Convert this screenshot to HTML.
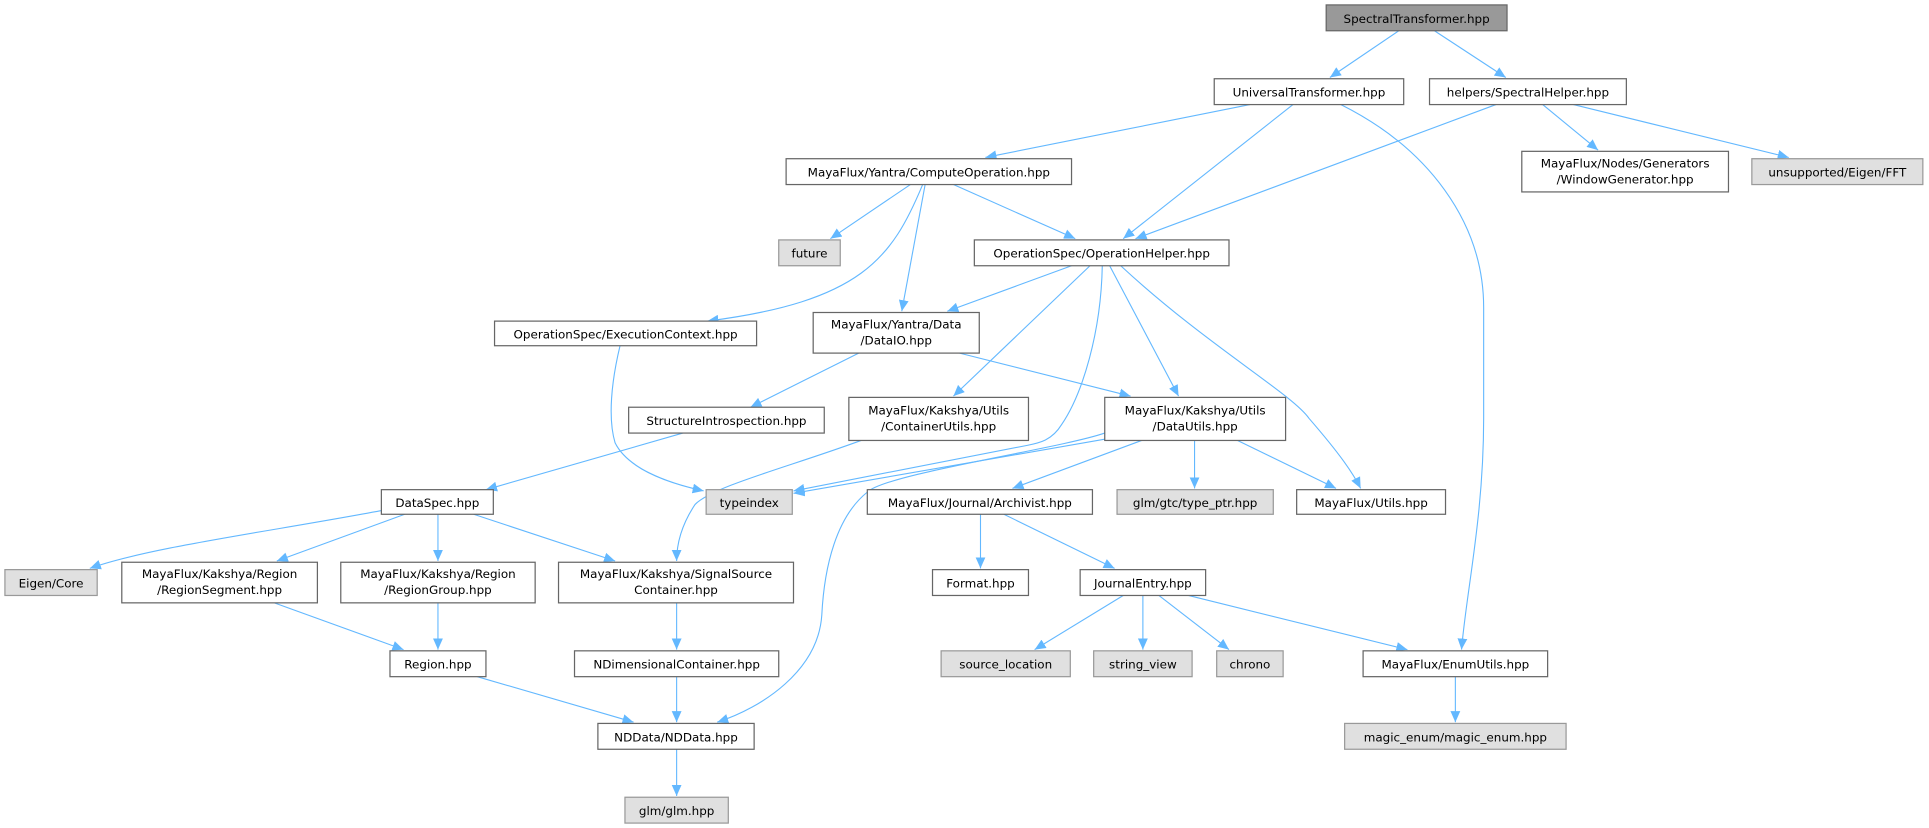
<!DOCTYPE html>
<html><head><meta charset="utf-8"><style>
html,body{margin:0;padding:0;background:#fff;}
svg{display:block;}
text{font-family:"DejaVu Sans","Liberation Sans",sans-serif;font-size:9.7px;fill:#000;text-anchor:middle;}
.n{fill:#fff;stroke:#666;stroke-width:1;}
.g{fill:#e0e0e0;stroke:#999;stroke-width:1;}
.r{fill:#999;stroke:#666;stroke-width:1;}
.e{fill:none;stroke:#63b8ff;stroke-width:0.9;marker-end:url(#a);}
</style></head><body>
<svg width="1929" height="828" viewBox="0 0 1568 673" preserveAspectRatio="none" xmlns="http://www.w3.org/2000/svg">
<defs><marker id="a" markerUnits="userSpaceOnUse" markerWidth="10" markerHeight="8" refX="9" refY="4" orient="auto"><path d="M0,0 L9,4 L0,8 z" fill="#63b8ff"/></marker></defs>
<!-- edges -->
<path class="e" d="M1137,25 L1081,63"/>
<path class="e" d="M1166,25 L1224,63"/>
<path class="e" d="M1016,85 L801,128"/>
<path class="e" d="M1051,85 L913,194"/>
<path class="e" d="M1090,85 C1160,120 1206,180 1206,250 L1206,340 C1206,420 1192,480 1188,528"/>
<path class="e" d="M1216,85 L923,194"/>
<path class="e" d="M1254,85 L1299,122"/>
<path class="e" d="M1279,85 L1454,128"/>
<path class="e" d="M740,150 L675,194"/>
<path class="e" d="M750,150 C725,210 700,245 575,261"/>
<path class="e" d="M752,150 L733,253"/>
<path class="e" d="M775,150 L874,194"/>
<path class="e" d="M871,216 L770,253"/>
<path class="e" d="M886,216 L775,322"/>
<path class="e" d="M896,216 C895,270 880,320 863,345 C855,358 845,360 835,362 L645,399"/>
<path class="e" d="M902,216 L958,322"/>
<path class="e" d="M911,216 C980,280 1050,320 1064,340 C1090,370 1100,385 1106,397"/>
<path class="e" d="M698,287 L610,331"/>
<path class="e" d="M780,287 L919,322"/>
<path class="e" d="M504,281 C497,310 494,340 500,360 C510,380 540,392 572,399"/>
<path class="e" d="M555,352 L395,398"/>
<path class="e" d="M700,358 C640,380 580,395 565,410 C555,425 550,440 550,456"/>
<path class="e" d="M898,357 L645,401"/>
<path class="e" d="M898,352 C860,365 720,385 705,400 C680,420 670,460 668,500 C665,545 620,575 583,587"/>
<path class="e" d="M928,358 L823,397"/>
<path class="e" d="M971,358 L971,397"/>
<path class="e" d="M1006,358 L1086,397"/>
<path class="e" d="M310,415 C220,432 120,445 73,462"/>
<path class="e" d="M329,418 L225,456"/>
<path class="e" d="M356,418 L356,456"/>
<path class="e" d="M385,418 L500,456"/>
<path class="e" d="M223,490 L328,528"/>
<path class="e" d="M356,490 L356,528"/>
<path class="e" d="M550,490 L550,528"/>
<path class="e" d="M388,550 L515,587"/>
<path class="e" d="M550,550 L550,587"/>
<path class="e" d="M550,609 L550,647"/>
<path class="e" d="M797,418 L797,462"/>
<path class="e" d="M816,418 L906,462"/>
<path class="e" d="M913,484 L841,528"/>
<path class="e" d="M929,484 L929,528"/>
<path class="e" d="M942,484 L999,528"/>
<path class="e" d="M966,484 L1144,528"/>
<path class="e" d="M1183,550 L1183,587"/>
<!-- nodes -->
<rect class="r" x="1078" y="4" width="147" height="21"/><text x="1151.5" y="18.5">SpectralTransformer.hpp</text>
<rect class="n" x="987" y="64" width="154" height="21"/><text x="1064" y="78.5">UniversalTransformer.hpp</text>
<rect class="n" x="1162" y="64" width="160" height="21"/><text x="1242" y="78.5">helpers/SpectralHelper.hpp</text>
<rect class="n" x="639" y="129" width="232" height="21"/><text x="755" y="143.5">MayaFlux/Yantra/ComputeOperation.hpp</text>
<rect class="n" x="1237" y="123" width="168" height="33"/><text x="1321" y="136">MayaFlux/Nodes/Generators</text><text x="1321" y="149">/WindowGenerator.hpp</text>
<rect class="g" x="1424" y="129" width="139" height="21"/><text x="1493.5" y="143.5">unsupported/Eigen/FFT</text>
<rect class="g" x="633" y="195" width="50" height="21"/><text x="658" y="209.5">future</text>
<rect class="n" x="792" y="195" width="207" height="21"/><text x="895.5" y="209.5">OperationSpec/OperationHelper.hpp</text>
<rect class="n" x="402" y="261" width="213" height="20"/><text x="508.5" y="275">OperationSpec/ExecutionContext.hpp</text>
<rect class="n" x="661" y="254" width="135" height="33"/><text x="728.5" y="267">MayaFlux/Yantra/Data</text><text x="728.5" y="280">/DataIO.hpp</text>
<rect class="n" x="511" y="331" width="159" height="21"/><text x="590.5" y="345.5">StructureIntrospection.hpp</text>
<rect class="n" x="690" y="323" width="146" height="35"/><text x="763" y="337">MayaFlux/Kakshya/Utils</text><text x="763" y="350">/ContainerUtils.hpp</text>
<rect class="n" x="898" y="323" width="147" height="35"/><text x="971.5" y="337">MayaFlux/Kakshya/Utils</text><text x="971.5" y="350">/DataUtils.hpp</text>
<rect class="n" x="310" y="398" width="91" height="20"/><text x="355.5" y="412">DataSpec.hpp</text>
<rect class="g" x="574" y="398" width="70" height="20"/><text x="609" y="412">typeindex</text>
<rect class="n" x="705" y="398" width="183" height="20"/><text x="796.5" y="412">MayaFlux/Journal/Archivist.hpp</text>
<rect class="g" x="908" y="398" width="127" height="20"/><text x="971.5" y="412">glm/gtc/type_ptr.hpp</text>
<rect class="n" x="1054" y="398" width="121" height="20"/><text x="1114.5" y="412">MayaFlux/Utils.hpp</text>
<rect class="g" x="4" y="463" width="75" height="21"/><text x="41.5" y="477.5">Eigen/Core</text>
<rect class="n" x="99" y="457" width="159" height="33"/><text x="178.5" y="470">MayaFlux/Kakshya/Region</text><text x="178.5" y="483">/RegionSegment.hpp</text>
<rect class="n" x="277" y="457" width="158" height="33"/><text x="356" y="470">MayaFlux/Kakshya/Region</text><text x="356" y="483">/RegionGroup.hpp</text>
<rect class="n" x="454" y="457" width="191" height="33"/><text x="549.5" y="470">MayaFlux/Kakshya/SignalSource</text><text x="549.5" y="483">Container.hpp</text>
<rect class="n" x="758" y="463" width="78" height="21"/><text x="797" y="477.5">Format.hpp</text>
<rect class="n" x="878" y="463" width="102" height="21"/><text x="929" y="477.5">JournalEntry.hpp</text>
<rect class="n" x="317" y="529" width="78" height="21"/><text x="356" y="543.5">Region.hpp</text>
<rect class="n" x="467" y="529" width="166" height="21"/><text x="550" y="543.5">NDimensionalContainer.hpp</text>
<rect class="g" x="765" y="529" width="105" height="21"/><text x="817.5" y="543.5">source_location</text>
<rect class="g" x="889" y="529" width="80" height="21"/><text x="929" y="543.5">string_view</text>
<rect class="g" x="989" y="529" width="54" height="21"/><text x="1016" y="543.5">chrono</text>
<rect class="n" x="1108" y="529" width="150" height="21"/><text x="1183" y="543.5">MayaFlux/EnumUtils.hpp</text>
<rect class="n" x="486" y="588" width="127" height="21"/><text x="549.5" y="602.5">NDData/NDData.hpp</text>
<rect class="g" x="1093" y="588" width="180" height="21"/><text x="1183" y="602.5">magic_enum/magic_enum.hpp</text>
<rect class="g" x="508" y="648" width="84" height="21"/><text x="550" y="662.5">glm/glm.hpp</text>
</svg>
</body></html>
